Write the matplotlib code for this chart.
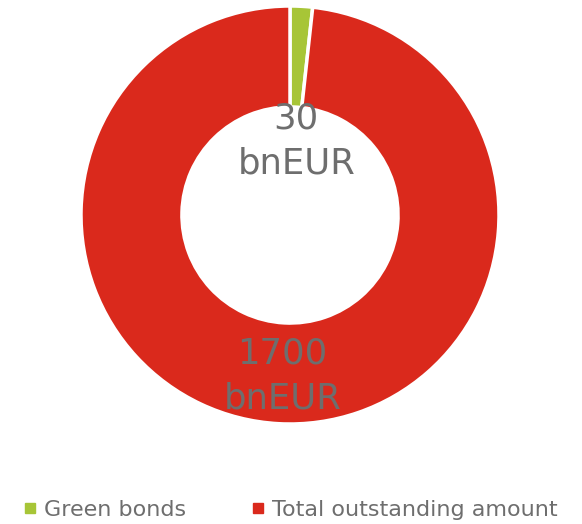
import matplotlib.pyplot as plt
from matplotlib.lines import Line2D

categories = ["Green bonds", "Total outstanding amount"]
values = [30, 1700]
labels = ["30\nbnEUR", "1700\nbnEUR"]
colors = ["#A7C537", "#DA291C"]
text_color = "#6E6E6E"

fig = plt.figure(figsize=(5.82, 5.24), dpi=100)
ax = fig.add_axes([81/582, 100/524, 418/582, 418/524])
ax.pie(values, colors=colors, startangle=90, counterclock=False, radius=1.0,
       wedgeprops=dict(width=0.483, edgecolor="white", linewidth=2.5))
ax.set_xlim(-1, 1)
ax.set_ylim(-1, 1)
ax.set_aspect("equal")
ax.axis("off")

label_pos = [(0.03, 0.355), (-0.035, -0.77)]
for (x, y), t in zip(label_pos, labels):
    ax.text(x, y, t, ha="center", va="center", fontsize=25.5, color=text_color,
            linespacing=1.4, family="DejaVu Sans")

handles = [Line2D([], [], marker="s", linestyle="none", markersize=7,
                  markerfacecolor=c, markeredgecolor=c) for c in colors]
fig.legend(handles, categories, loc="center", bbox_to_anchor=(0.497, 1 - 510/524),
           ncol=2, frameon=False, fontsize=16, labelcolor=text_color,
           handletextpad=0.25, columnspacing=2.8, handlelength=0.8)

fig.savefig("out.png", dpi=100)
